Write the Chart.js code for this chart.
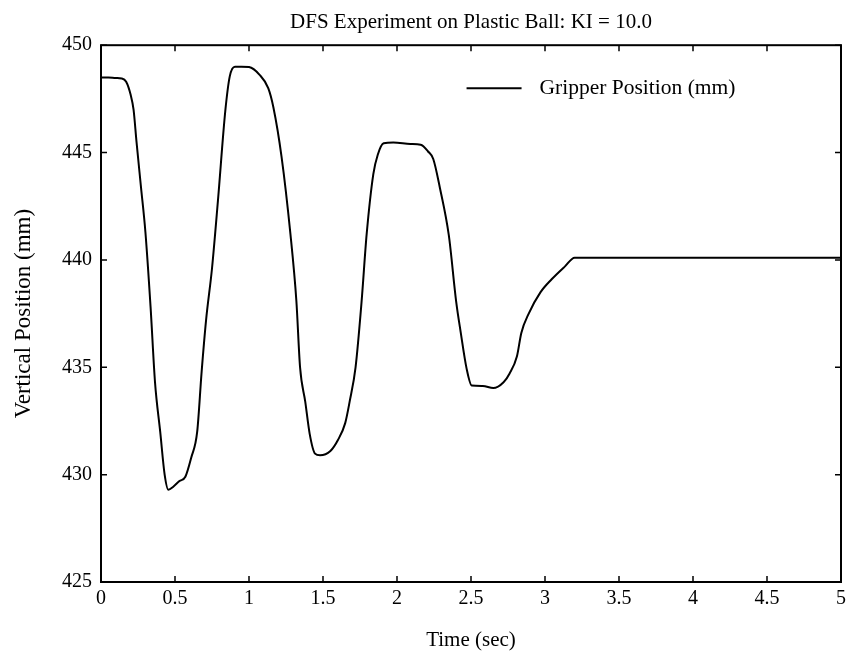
<!DOCTYPE html>
<html>
<head>
<meta charset="utf-8">
<title>DFS Experiment on Plastic Ball</title>
<script src="https://cdn.jsdelivr.net/npm/chart.js@4.4.1/dist/chart.umd.min.js"></script>
<style>
    html, body { margin: 0; padding: 0; background: #fff; }
    #wrap { width: 851px; height: 659px; }
</style>
</head>
<body>
<div id="wrap"><canvas id="chartGripper"></canvas></div>
<script>
// datos (tiempo en s, posicion en mm)
const timeSec = [
    0, 0.05, 0.10, 0.14, 0.17, 0.20, 0.22, 0.24, 0.27, 0.30,
    0.335, 0.365, 0.40, 0.43, 0.455, 0.49, 0.53, 0.57, 0.61, 0.65,
    0.68, 0.71, 0.75, 0.79, 0.84, 0.87, 0.905, 0.95, 1.00, 1.07,
    1.13, 1.165, 1.22, 1.28, 1.32, 1.345, 1.38, 1.41, 1.446, 1.48,
    1.55, 1.60, 1.65, 1.68, 1.72, 1.76, 1.795, 1.84, 1.87, 1.91,
    1.975, 2.09, 2.16, 2.21, 2.245, 2.29, 2.35, 2.40, 2.43, 2.47,
    2.505, 2.58, 2.65, 2.72, 2.76, 2.81, 2.84, 2.89, 2.97, 3.045,
    3.135, 3.20, 3.5, 4.0, 4.5, 5.0
];
const positionMm = [
    448.5, 448.5, 448.47, 448.45, 448.3, 447.7, 447.0, 445.5, 443.4, 441.3,
    437.8, 434.3, 432.0, 430.0, 429.3, 429.45, 429.7, 429.9, 430.8, 432.0,
    434.8, 437.2, 439.6, 442.75, 446.95, 448.55, 449.0, 449.0, 448.98, 448.63,
    448.0, 447.1, 444.8, 441.2, 438.1, 435.0, 433.4, 431.9, 430.98, 430.9,
    431.1, 431.6, 432.4, 433.4, 435.0, 438.0, 441.2, 444.0, 444.9, 445.43,
    445.47, 445.4, 445.36, 445.05, 444.7, 443.35, 441.15, 438.05, 436.65, 434.95,
    434.15, 434.13, 434.03, 434.3, 434.7, 435.5, 436.6, 437.5, 438.5, 439.1,
    439.7, 440.1, 440.1, 440.1, 440.1, 440.1
];
const xTicks = [0, 0.5, 1, 1.5, 2, 2.5, 3, 3.5, 4, 4.5, 5];
const yTicks = [425, 430, 435, 440, 445, 450];

const seriesLabel = 'Gripper Position (mm)';
const serif = 'Liberation Serif, Times New Roman, serif';

// marco completo con marcas hacia dentro y leyenda dentro del area
const frameTicks = {
    id: 'frameTicks',
    afterDatasetsDraw(chart) {
        const { ctx, chartArea: a, scales: { x, y } } = chart;
        const len = 6;
        ctx.save();
        ctx.strokeStyle = '#000';
        ctx.lineWidth = 2;
        ctx.strokeRect(a.left, a.top, a.width, a.height);

        ctx.lineWidth = 1.5;
        ctx.beginPath();
        xTicks.forEach(v => {
            const px = x.getPixelForValue(v);
            ctx.moveTo(px, a.bottom); ctx.lineTo(px, a.bottom - len);
            ctx.moveTo(px, a.top); ctx.lineTo(px, a.top + len);
        });
        yTicks.forEach(v => {
            const py = y.getPixelForValue(v);
            ctx.moveTo(a.left, py); ctx.lineTo(a.left + len, py);
            ctx.moveTo(a.right, py); ctx.lineTo(a.right - len, py);
        });
        ctx.stroke();

        // leyenda
        const lx = a.left + a.width * 0.494;
        const ly = a.top + 43;
        ctx.lineWidth = 2;
        ctx.beginPath();
        ctx.moveTo(lx, ly);
        ctx.lineTo(lx + 55, ly);
        ctx.stroke();
        ctx.fillStyle = '#000';
        ctx.font = '21.5px ' + serif;
        ctx.textBaseline = 'middle';
        ctx.textAlign = 'left';
        ctx.fillText(chart.data.datasets[0].label, lx + 73, ly);
        ctx.restore();
    }
};

const chartCtx = document.getElementById('chartGripper').getContext('2d');
new Chart(chartCtx, {
    type: 'line',
    data: {
        datasets: [{
            label: seriesLabel,
            data: timeSec.map((t, i) => ({ x: t, y: positionMm[i] })),
            borderColor: '#000',
            borderWidth: 2,
            pointRadius: 0,
            fill: false,
            cubicInterpolationMode: 'monotone'
        }]
    },
    options: {
        responsive: true,
        maintainAspectRatio: false,
        animation: false,
        layout: { padding: { right: 10 } },
        plugins: {
            legend: { display: false },
            tooltip: { enabled: false },
            title: {
                display: true,
                text: 'DFS Experiment on Plastic Ball: KI = 10.0',
                color: '#000',
                fullSize: false,
                font: { family: serif, size: 21, weight: 'normal' },
                padding: { top: 10, bottom: 10 }
            }
        },
        scales: {
            x: {
                type: 'linear',
                min: 0,
                max: 5,
                afterBuildTicks: (s) => { s.ticks = xTicks.map(v => ({ value: v })); },
                afterFit: (s) => { s.height = 77; },
                grid: { display: false, drawTicks: false },
                border: { display: false },
                ticks: {
                    color: '#000',
                    padding: 5,
                    maxRotation: 0,
                    autoSkip: false,
                    callback: (v) => String(v),
                    font: { family: serif, size: 20 }
                },
                title: {
                    display: true,
                    text: 'Time (sec)',
                    color: '#000',
                    font: { family: serif, size: 21 },
                    padding: { top: 0, bottom: 6 }
                }
            },
            y: {
                type: 'linear',
                min: 425,
                max: 450,
                afterBuildTicks: (s) => { s.ticks = yTicks.map(v => ({ value: v })); },
                afterFit: (s) => { s.width = 101; },
                grid: { display: false, drawTicks: false },
                border: { display: false },
                ticks: {
                    color: '#000',
                    padding: 9,
                    autoSkip: false,
                    callback: (v) => String(v),
                    font: { family: serif, size: 20 }
                },
                title: {
                    display: true,
                    text: 'Vertical Position (mm)',
                    color: '#000',
                    font: { family: serif, size: 23 },
                    padding: { top: 10, bottom: 0 }
                }
            }
        }
    },
    plugins: [frameTicks]
});
</script>
</body>
</html>
